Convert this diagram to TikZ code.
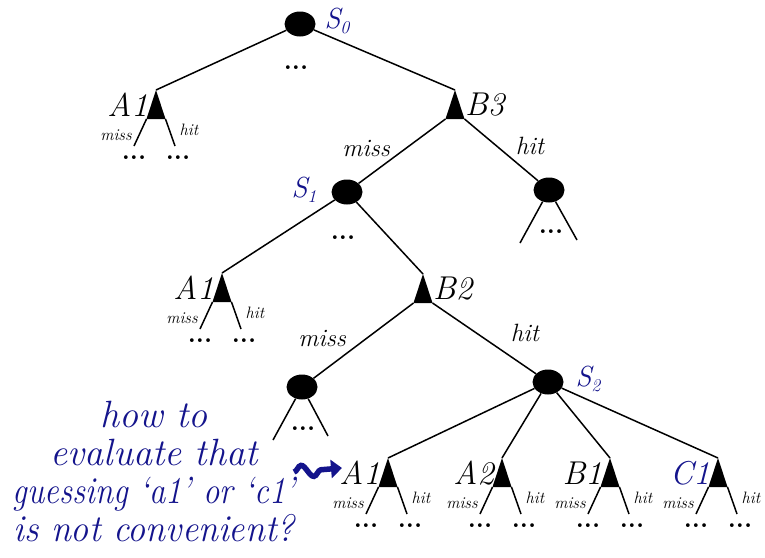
\documentclass[tikz,border=0pt]{standalone}
\usepackage{fontspec}
\usetikzlibrary{shapes.geometric,calc,decorations.pathmorphing,arrows.meta}
\definecolor{navy}{RGB}{20,20,140}
\newcommand{\dotstext}{...}
\newcommand{\slabel}[1]{S\raisebox{-5pt}{\fontsize{18}{18}\selectfont #1}}
\newcommand{\actnode}[6]{% name, x, y, label, label color, label side (east/west)
  \coordinate (#1) at (#2,#3);
  \coordinate (#1l) at ($(#1)+(-9.5,29)$);
  \coordinate (#1r) at ($(#1)+(9.5,29)$);
  \fill (#1) -- (#1l) -- (#1r) -- cycle;
  \coordinate (#1le) at ($(#1)+(-22,56)$);
  \coordinate (#1re) at ($(#1)+(19,56)$);
  \draw[edge] (#1l) -- (#1le);
  \draw[edge] (#1r) -- (#1re);
  \node[small] (#1miss) at ($(#1)+(-40,45)$) {miss};
  \node[small] (#1hit) at ($(#1)+(33,40)$) {hit};
  \node[dots] (#1dl) at ($(#1)+(-22,68)$) {\dotstext};
  \node[dots] (#1dr) at ($(#1)+(22,68)$) {\dotstext};
  \ifx e#6\node[lbl,text=#5,anchor=east] (#1lab) at ($(#1)+(-7,15)$) {#4};
  \else\node[lbl,text=#5,anchor=west] (#1lab) at ($(#1)+(9,15)$) {#4};\fi
}
\newcommand{\bigact}[4]{% name, x, y, label
  \coordinate (#1) at (#2,#3);
  \coordinate (#1l) at ($(#1)+(-9.5,29)$);
  \coordinate (#1r) at ($(#1)+(9.5,29)$);
  \fill (#1) -- (#1l) -- (#1r) -- cycle;
  \node[lbl,anchor=west] (#1lab) at ($(#1)+(9,15)$) {#4};
}
\begin{document}
\begin{tikzpicture}[x=1pt,y=-1pt,
  state/.style={ellipse, fill=black, minimum width=31pt, minimum height=25pt, inner sep=0pt},
  lbl/.style={font=\fontsize{33}{33}\selectfont\itshape, inner sep=1pt},
  slbl/.style={text=navy, font=\fontsize{29}{29}\selectfont\itshape, inner sep=0pt},
  small/.style={font=\fontsize{16.5}{16.5}\selectfont\itshape, inner sep=0pt},
  mid/.style={font=\fontsize{25}{25}\selectfont\itshape, inner sep=0pt},
  dots/.style={font=\fontsize{26}{26}\selectfont\bfseries, inner sep=0pt},
  edge/.style={line width=1.5pt}]
\useasboundingbox (0,0) rectangle (765,557);

% root
\node[state] (S0) at (300,24) {};
\node[slbl] (S0lab) at (337,21) {\slabel{0}};
\node[dots] (d0) at (296,68) {\dotstext};

\actnode{tA}{156}{90}{A1}{black}{e}
\bigact{B3}{455}{90}{B3}
\draw[edge] (S0) -- (tA);
\draw[edge] (S0) -- (B3);

% level 1
\node[state] (S1) at (347,192) {};
\node[slbl] (S1lab) at (304,190) {\slabel{1}};
\node[state] (R1) at (549,190) {};
\draw[edge] (B3l) -- (S1);
\draw[edge] (B3r) -- (R1);
\node[mid] (B3miss) at (366,148) {miss};
\node[mid] (B3hit) at (530,146) {hit};
\coordinate (R1a) at (520,243);
\coordinate (R1b) at (577,240);
\draw[edge] (R1) -- (R1a);
\draw[edge] (R1) -- (R1b);
\node[dots] (R1d) at (551,232) {\dotstext};
\node[dots] (d1) at (343,238) {\dotstext};

\actnode{mA}{222}{273}{A1}{black}{e}
\bigact{B2}{423}{274}{B2}
\draw[edge] (S1) -- (mA);
\draw[edge] (S1) -- (B2);

% level 2
\node[state] (L2) at (302,387) {};
\node[state] (S2) at (548,382) {};
\node[slbl] (S2lab) at (588,379) {\slabel{2}};
\draw[edge] (B2l) -- (L2);
\draw[edge] (B2r) -- (S2);
\node[mid] (B2miss) at (322,338) {miss};
\node[mid] (B2hit) at (525,333) {hit};
\coordinate (L2a) at (273,440);
\coordinate (L2b) at (328,436);
\draw[edge] (L2) -- (L2a);
\draw[edge] (L2) -- (L2b);
\node[dots] (L2d) at (303,429) {\dotstext};

% bottom actions
\actnode{bA}{388}{458}{A1}{black}{e}
\actnode{bB}{502}{458}{A2}{black}{e}
\actnode{bC}{610}{458}{B1}{black}{e}
\actnode{bD}{718}{458}{C1}{navy}{e}
\draw[edge] (S2) -- (bA);
\draw[edge] (S2) -- (bB);
\draw[edge] (S2) -- (bC);
\draw[edge] (S2) -- (bD);

% question text
\node[text=navy, align=center, font=\fontsize{38}{38}\selectfont\itshape, inner sep=0pt] (q) at (154,471)
  {how to\\evaluate that\\\scalebox{0.86}[1]{guessing `a1' or `c1'}\\\scalebox{0.95}[1]{is not convenient?}};
\coordinate (q1) at (294,472);
\coordinate (q2) at (342,468);
\draw[navy, line width=5.5pt, decorate,
  decoration={snake, amplitude=6pt, segment length=24pt, post length=10pt},
  -{Triangle[length=11pt,width=18pt]}] (q1) -- (q2);
\end{tikzpicture}
\end{document}
